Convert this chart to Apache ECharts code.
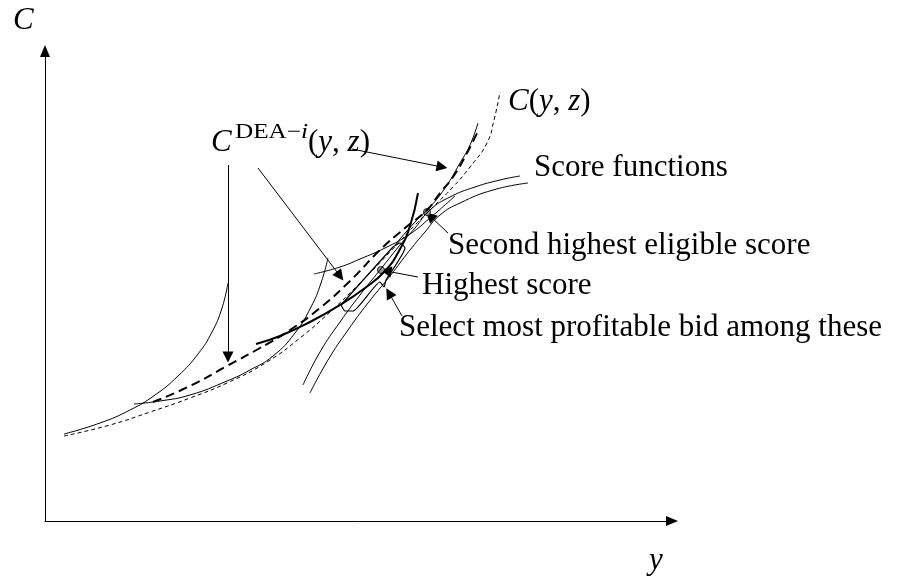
<!DOCTYPE html>
<html>
<head>
<meta charset="utf-8">
<script src="https://cdn.jsdelivr.net/npm/echarts@6/dist/echarts.min.js"></script>
<style>
  html, body { margin: 0; padding: 0; background: #fff; }
  #chart { width: 902px; height: 581px; }
</style>
</head>
<body>
<div id="chart"></div>
<script>
// curves, in (y, C) units of the sketch
const costCurve = [[19,85],[65,96],[105,109],[145,123],[182,138],[222,159],[255,183],[285,209],[315,238],[345,269],[370,296],[388,314],[408,334],[425,354],[442,378],[449,401],[455,429]];
const deaCurve = [[108,119],[145,135],[182,155],[215,173],[245,191],[275,213],[305,240],[335,271],[360,293],[382,311],[395,328],[408,344],[422,368],[434,392]];
const pieceA = [[19,87],[55,98],[85,111],[110,126],[133,145],[153,167],[167,189],[177,213],[183,238]];
const pieceB = [[89,117],[115,120],[145,126],[182,140],[205,151],[228,165],[250,188],[266,214],[276,238],[283,263]];
const pieceThick = [[211,177],[235,185],[265,199],[295,216],[320,233],[340,250],[354,270],[365,295],[373,328]];
const pieceC = [[269,247],[295,254],[315,262],[340,273],[365,287],[385,303],[410,325]];
const pieceD = [[350,276],[370,299],[385,314],[400,333],[415,358],[425,376],[433,398]];
const score1 = [[258,136],[275,169],[295,199],[315,226],[335,251],[355,276],[370,293],[385,311],[405,324],[430,334],[455,341],[475,345]];
const score2 = [[265,128],[283,161],[303,191],[323,218],[345,245],[365,271],[380,289],[395,306],[415,318],[448,331],[483,338]];
const bidBracket = [[296,216],[348,274],[355,278],[360,273],[341,241],[339,234],[335,239],[308,210],[300,210],[296,216]];
const bidPoints = [[336,251],[382,309]];
const pointerArrows = [
  [[183,356],[183,164]],
  [[213,353],[295,245]],
  [[307,372],[397,354]],
  [[403,288],[385,305]],
  [[373,244],[341,250]],
  [[357,205],[344,228]]
];
const textLabels = ['Score functions', 'Second highest eligible score', 'Highest score', 'Select most profitable bid among these'];

const FONT = '"Liberation Serif", "DejaVu Serif", serif';

function curve(data, style) {
  return {
    type: 'line', data: data, smooth: 0.5, showSymbol: false, symbol: 'none',
    silent: true, lineStyle: Object.assign({ color: '#000', width: 1 }, style)
  };
}

function txt(x, y, text, size, rich, sx) {
  return {
    type: 'text', x: x, y: y, silent: true, scaleX: sx || 1,
    style: {
      text: text, fill: '#000', verticalAlign: 'middle', align: 'left',
      font: size + 'px ' + FONT, rich: rich
    }
  };
}

const richMath = {
  i: { fontStyle: 'italic', fontFamily: FONT, fontSize: 31, color: '#000' },
  r: { fontFamily: FONT, fontSize: 31, color: '#000' }
};
const richSup = {
  i: { fontStyle: 'italic', fontFamily: FONT, fontSize: 21, color: '#000' },
  r: { fontFamily: FONT, fontSize: 21, color: '#000' }
};

let myChart = echarts.init(document.getElementById('chart'));
myChart.setOption({
  animation: false,
  backgroundColor: '#fff',
  grid: { left: 45, right: 230, top: 51, bottom: 60 },
  xAxis: {
    type: 'value', min: 0, max: 627,
    axisLine: { lineStyle: { color: '#000', width: 1 }, symbol: ['none', 'triangle'], symbolSize: [10, 12] },
    axisTick: { show: false }, axisLabel: { show: false }, splitLine: { show: false }
  },
  yAxis: {
    type: 'value', min: 0, max: 470,
    axisLine: { show: true, lineStyle: { color: '#000', width: 1 }, symbol: ['none', 'triangle'], symbolSize: [10, 12] },
    axisTick: { show: false }, axisLabel: { show: false }, splitLine: { show: false }
  },
  series: [
    curve(costCurve, { type: [4, 3], width: 1 }),
    curve(deaCurve, { type: [9, 5], width: 2 }),
    curve(pieceA, {}),
    curve(pieceB, {}),
    curve(pieceThick, { width: 2 }),
    curve(pieceC, {}),
    curve(pieceD, {}),
    curve(score1, {}),
    curve(score2, {}),
    Object.assign(curve(bidBracket, { width: 1.2 }), { smooth: 0.15 }),
    {
      type: 'lines', coordinateSystem: 'cartesian2d', silent: true,
      symbol: ['none', 'triangle'], symbolSize: [8, 11],
      lineStyle: { color: '#000', width: 1, opacity: 1, curveness: 0 },
      itemStyle: { color: '#000' },
      data: pointerArrows.map(c => ({ coords: c }))
    },
    {
      type: 'scatter', data: bidPoints, symbolSize: 7, silent: true,
      itemStyle: { color: '#9a9a9a', borderColor: '#222', borderWidth: 1, opacity: 1 }
    }
  ],
  graphic: [
    txt(13, 21, '{i|C}', 31, richMath),
    txt(649, 561, '{i|y}', 31, richMath),
    txt(508, 102, '{i|C}{r|(}{i|y}{r|, }{i|z}{r|)}', 31, richMath),
    txt(211, 143, '{i|C}', 31, richMath),
    txt(235, 132, '{r|DEA\u2212}{i|i}', 21, richSup, 1.2),
    txt(308, 143, '{r|(}{i|y}{r|, }{i|z}{r|)}', 31, richMath),
    txt(534, 168, textLabels[0], 31),
    txt(448, 246, textLabels[1], 31),
    txt(422, 286, textLabels[2], 31),
    txt(399, 328, textLabels[3], 31)
  ]
});
</script>
</body>
</html>
